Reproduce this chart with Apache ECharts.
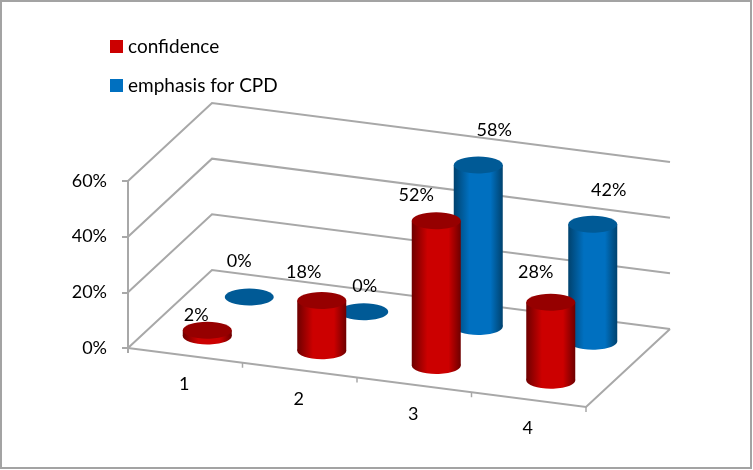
<!DOCTYPE html>
<html>
<head>
<meta charset="utf-8">
<style>html,body{margin:0;padding:0;background:#fff}#c{width:753px;height:470px}</style>
<script src="https://cdn.jsdelivr.net/npm/echarts@6/dist/echarts.min.js"></script>
</head>
<body>
<div id="c"></div>
<script>
var categories = ['1', '2', '3', '4'];
var confidence = [2, 18, 52, 28];
var emphasisForCPD = [0, 0, 58, 42];
var yTicks = [0, 20, 40, 60];

// style / layout only
var FONT = 'Lato';
var FS = 18;
var DEPTH = [84, -78];
var SLOPE = 59 / 458;
var R = 24.5, RY = 8.5, BAR_DX = 1;
var GRID = { left: 128, top: 181, width: 458, height: 167 };
var redOffsets = [[-11, -15], [-18, -28], [-20, -25], [-15, -30]];
var blueOffsets = [[-10, -36], [1, -25], [16, -35], [16, -34]];
var RED = { edge: '#6e0000', mid: '#cc0000', top: '#960000' };
var BLUE = { edge: '#00426e', mid: '#0070c0', top: '#005a96' };
var GRAY = '#a8a8a8';

function project(p, left, d) {
  return [p[0] + d * DEPTH[0], p[1] + SLOPE * (p[0] - left) + d * DEPTH[1]];
}
function grad(c) {
  return new echarts.graphic.LinearGradient(0, 0, 1, 0, [
    { offset: 0, color: c.edge },
    { offset: 0.32, color: c.mid },
    { offset: 0.75, color: c.mid },
    { offset: 1, color: c.edge }
  ]);
}
function cylinder(colors, d, offsets) {
  return function (params, api) {
    var i = api.value(0), v = api.value(1), left = params.coordSys.x;
    var c0 = api.coord([i, 0]), c1 = api.coord([i, v]);
    var b = project(c0, left, d);
    b[0] += BAR_DX;
    var t = [b[0], b[1] - (c0[1] - c1[1])];
    var kids = [];
    if (v > 0) {
      kids.push({ type: 'ellipse', shape: { cx: b[0], cy: b[1], rx: R, ry: RY }, style: { fill: grad(colors) } });
      kids.push({ type: 'rect', shape: { x: b[0] - R, y: t[1], width: 2 * R, height: b[1] - t[1] }, style: { fill: grad(colors) } });
    }
    kids.push({ type: 'ellipse', shape: { cx: t[0], cy: t[1], rx: R, ry: RY }, style: { fill: colors.top } });
    var o = offsets[params.dataIndex];
    kids.push({
      type: 'text',
      z2: 100,
      style: { x: t[0] + o[0], y: t[1] + o[1], text: v + '%', font: FS + 'px ' + FONT, fill: '#000', textAlign: 'center', textVerticalAlign: 'middle' }
    });
    return { type: 'group', children: kids };
  };
}
var lineStyle = { stroke: GRAY, lineWidth: 2, fill: 'none' };

function wallRender(params, api) {
  var cs = params.coordSys;
  var y = api.coord([0, api.value(0)])[1];
  var a = [cs.x, y];
  var b = [cs.x + cs.width, y];
  var pts = [project(a, cs.x, 0), project(a, cs.x, 1), project(b, cs.x, 1)];
  var kids = [{ type: 'polyline', shape: { points: pts }, style: lineStyle }];
  if (api.value(0) === 0) {
    kids.push({ type: 'polyline', shape: { points: [project(a, cs.x, 0), project(b, cs.x, 0), project(b, cs.x, 1)] }, style: lineStyle });
    kids.push({ type: 'line', shape: { x1: cs.x, y1: y, x2: cs.x, y2: y + 5 }, style: { stroke: GRAY, lineWidth: 2 } });
  }
  return { type: 'group', children: kids };
}
function xRender(params, api) {
  var cs = params.coordSys;
  var i = api.value(0);
  var y = api.coord([i, 0])[1];
  var c = api.coord([i, 0])[0];
  var band = cs.width / categories.length;
  var tick = project([c + band / 2, y], cs.x, 0);
  var lab = project([c, y], cs.x, 0);
  return {
    type: 'group',
    children: [
      { type: 'line', shape: { x1: tick[0], y1: tick[1], x2: tick[0], y2: tick[1] + 5 }, style: { stroke: GRAY, lineWidth: 1.5 } },
      { type: 'text', style: { x: lab[0] - 1, y: lab[1] + 29, text: categories[i], font: FS + 'px ' + FONT, fill: '#000', textAlign: 'center', textVerticalAlign: 'middle' } }
    ]
  };
}

var chart = echarts.init(document.getElementById('c'), null, { renderer: 'canvas' });
chart.setOption({
  animation: false,
  backgroundColor: '#fff',
  graphic: [{
    type: 'rect', silent: true, z: -1,
    shape: { x: 1, y: 1, width: 750, height: 467 },
    style: { fill: '#fff', stroke: '#a3a3a3', lineWidth: 2 }
  }],
  legend: {
    orient: 'vertical', left: 110, top: 37, padding: 0,
    itemWidth: 13, itemHeight: 13, itemGap: 20,
    icon: 'rect', selectedMode: false,
    textStyle: { fontFamily: FONT, fontSize: 19, color: '#000' },
    data: ['confidence', 'emphasis for CPD']
  },
  grid: GRID,
  xAxis: { type: 'category', data: categories, axisLine: { show: false }, axisTick: { show: false }, axisLabel: { show: false }, splitLine: { show: false } },
  yAxis: {
    type: 'value', min: 0, max: 60, interval: 20,
    axisLine: { show: true, lineStyle: { color: GRAY, width: 2 } },
    axisTick: { show: true, length: 6, lineStyle: { color: GRAY, width: 2 } },
    axisLabel: { margin: 21, fontFamily: FONT, fontSize: FS, color: '#000', formatter: '{value}%', padding: [4, 0, 0, 0] },
    splitLine: { show: false }
  },
  series: [
    { type: 'custom', name: 'walls', silent: true, z: 1, renderItem: wallRender, data: yTicks.map(function (t) { return [t]; }), encode: { y: 0 } },
    { type: 'custom', name: 'xlabels', silent: true, z: 1, renderItem: xRender, data: categories.map(function (c, i) { return [i]; }), encode: { x: 0 } },
    { type: 'custom', name: 'emphasis for CPD', silent: true, z: 2, itemStyle: { color: BLUE.mid }, renderItem: cylinder(BLUE, 0.75, blueOffsets), data: emphasisForCPD.map(function (v, i) { return [i, v]; }), encode: { x: 0, y: 1 } },
    { type: 'custom', name: 'confidence', silent: true, z: 3, itemStyle: { color: RED.mid }, renderItem: cylinder(RED, 0.25, redOffsets), data: confidence.map(function (v, i) { return [i, v]; }), encode: { x: 0, y: 1 } }
  ]
});
</script>
</body>
</html>
